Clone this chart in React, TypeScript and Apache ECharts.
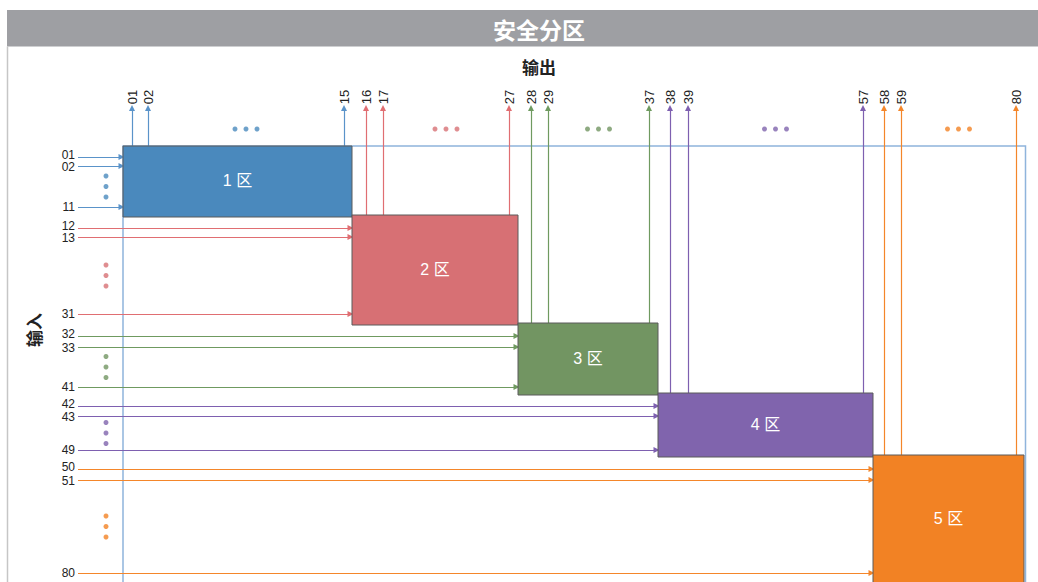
import React, { useEffect, useRef } from "react";
import * as echarts from "echarts";

// ---- diagram content ----
const zoneNames = ["1 区", "2 区", "3 区", "4 区", "5 区"];
const zoneInputs = [
  ["01", "02", "11"],
  ["12", "13", "31"],
  ["32", "33", "41"],
  ["42", "43", "49"],
  ["50", "51", "80"],
];
const zoneOutputs = [
  ["01", "02", "15"],
  ["16", "17", "27"],
  ["28", "29", "37"],
  ["38", "39", "57"],
  ["58", "59", "80"],
];
// zone extents in diagram units
const zoneLeft = [123, 352, 518, 658, 873];
const zoneRight = [352, 518, 658, 873, 1024];
const zoneTop = [146, 215, 323, 393, 455];
const zoneBottom = [215, 323, 393, 455, 582];
// input rows (y) and output columns (x) for the listed ports
const inputRows = [
  [157, 166, 207],
  [228, 237, 314],
  [336, 347, 387],
  [406, 416, 450],
  [469, 480, 573],
];
const outputCols = [
  [132, 148, 344],
  [366, 383, 509],
  [531, 548, 649],
  [670, 688, 863],
  [884, 901, 1016],
];

const boxColors = ["#4a89bd", "#d77074", "#729562", "#8064ad", "#f28224"];
const lineColors = ["#5a93c9", "#e06e72", "#6f9a60", "#7e60b0", "#f4862a"];

const W = 1038;
const H = 582;
const INPUT_START_X = 78;
const INPUT_DOT_X = 106;
const OUTPUT_END_Y = 108;
const OUTPUT_LABEL_Y = 97;
const OUTPUT_DOT_Y = 129;
const FRAME = [123, 1025.5, 146, 582];
const PAIR_LABEL_SHIFT = [-2, 1.2, 0];

const NUM_FONT = "'Liberation Sans', Arial, Helvetica, sans-serif";
const CJK_FONT = "'Noto Sans CJK SC', 'Noto Sans', sans-serif";

export default function App() {
  const ref = useRef<HTMLDivElement>(null);

  useEffect(() => {
    document.body.style.margin = "0";
    if (!ref.current) return;
    const chart = echarts.init(ref.current, undefined, { renderer: "svg" });

    const boxData = zoneNames.map((_, i) => [zoneLeft[i], zoneRight[i], zoneTop[i], zoneBottom[i]]);

    const lineData: any[] = [];
    const dotData: any[] = [];
    const textItems: { x: number; y: number; text: string; rot: boolean }[] = [];

    zoneNames.forEach((_, i) => {
      zoneInputs[i].forEach((name, j) => {
        const y = inputRows[i][j];
        lineData.push({
          coords: [[INPUT_START_X, y], [zoneLeft[i] - 1.5, y]],
          lineStyle: { color: lineColors[i] },
        });
        textItems.push({ x: INPUT_START_X - 3, y: y + PAIR_LABEL_SHIFT[j], text: name, rot: false });
      });
      zoneOutputs[i].forEach((name, j) => {
        const x = outputCols[i][j];
        lineData.push({
          coords: [[x, zoneTop[i]], [x, OUTPUT_END_Y]],
          lineStyle: { color: lineColors[i] },
        });
        textItems.push({ x, y: OUTPUT_LABEL_Y, text: name, rot: true });
      });
      const midY = (inputRows[i][1] + inputRows[i][2]) / 2;
      [-10.5, 0, 10.5].forEach((d) =>
        dotData.push({ value: [INPUT_DOT_X, midY + d], itemStyle: { color: boxColors[i] } })
      );
      const midX = (outputCols[i][1] + outputCols[i][2]) / 2;
      [-11, 0, 11].forEach((d) =>
        dotData.push({ value: [midX + d, OUTPUT_DOT_Y], itemStyle: { color: boxColors[i] } })
      );
    });

    const option: any = {
      animation: false,
      backgroundColor: "#ffffff",
      grid: { left: 0, right: 0, top: 0, bottom: 0, containLabel: false },
      xAxis: { type: "value", min: 0, max: W, show: false },
      yAxis: { type: "value", min: 0, max: H, inverse: true, show: false },
      graphic: [
        { type: "rect", shape: { x: 7, y: 10, width: 1200, height: 36.5 }, style: { fill: "#9e9fa3" }, z: 0 },
        { type: "line", shape: { x1: 7.5, y1: 46.5, x2: 7.5, y2: 582 }, style: { stroke: "#c6c6c6", lineWidth: 1.5 }, z: 0 },
        {
          type: "text", x: 539, y: 29, z: 10,
          style: { text: "安全分区", fill: "#ffffff", font: `bold 23px ${CJK_FONT}`, align: "center", verticalAlign: "middle" },
        },
        {
          type: "text", x: 539, y: 66, z: 10,
          style: { text: "输出", fill: "#222222", font: `bold 17px ${CJK_FONT}`, align: "center", verticalAlign: "middle" },
        },
        {
          type: "text", x: 33, y: 330, rotation: Math.PI / 2, z: 10,
          style: { text: "输入", fill: "#222222", font: `bold 17px ${CJK_FONT}`, align: "center", verticalAlign: "middle" },
        },
      ],
      series: [
        {
          type: "custom",
          z: 1,
          data: [FRAME],
          encode: { x: [0, 1], y: [2, 3] },
          renderItem: (params: any, api: any) => {
            const p0 = api.coord([api.value(0), api.value(2)]);
            const p1 = api.coord([api.value(1), api.value(3)]);
            return {
              type: "rect",
              shape: { x: p0[0], y: p0[1], width: p1[0] - p0[0], height: p1[1] - p0[1] + 2 },
              style: { fill: "none", stroke: "#8fb4dc", lineWidth: 1.5 },
            };
          },
        },
        {
          type: "lines",
          coordinateSystem: "cartesian2d",
          z: 2,
          symbol: ["none", "triangle"],
          symbolSize: [0, 6],
          lineStyle: { width: 1.2, opacity: 1 },
          data: lineData,
        },
        {
          type: "custom",
          z: 3,
          data: boxData,
          encode: { x: [0, 1], y: [2, 3] },
          renderItem: (params: any, api: any) => {
            const i = params.dataIndex;
            const p0 = api.coord([api.value(0), api.value(2)]);
            const p1 = api.coord([api.value(1), api.value(3)]);
            return {
              type: "group",
              children: [
                {
                  type: "rect",
                  shape: { x: p0[0], y: p0[1], width: p1[0] - p0[0], height: p1[1] - p0[1] + 2 },
                  style: { fill: boxColors[i], stroke: "#5a5a5a", lineWidth: 1 },
                },
                {
                  type: "text",
                  x: (p0[0] + p1[0]) / 2,
                  y: (p0[1] + p1[1]) / 2,
                  style: {
                    text: zoneNames[i],
                    fill: "#ffffff",
                    font: `16px ${NUM_FONT}, ${CJK_FONT}`,
                    align: "center",
                    verticalAlign: "middle",
                  },
                },
              ],
            };
          },
        },
        {
          type: "scatter",
          z: 4,
          symbol: "circle",
          symbolSize: 5,
          data: dotData,
        },
        {
          type: "custom",
          z: 5,
          data: textItems.map((t) => [t.x, t.y]),
          encode: { x: 0, y: 1 },
          renderItem: (params: any, api: any) => {
            const t = textItems[params.dataIndex];
            const p = api.coord([api.value(0), api.value(1)]);
            return {
              type: "text",
              x: p[0],
              y: p[1],
              rotation: t.rot ? Math.PI / 2 : 0,
              style: {
                text: t.text,
                fill: "#222222",
                fontFamily: NUM_FONT,
                fontSize: t.rot ? 13 : 12,
                lineHeight: 11,
                align: t.rot ? "center" : "right",
                verticalAlign: "middle",
              },
            };
          },
        },
      ],
    };

    chart.setOption(option);
    return () => chart.dispose();
  }, []);

  return <div ref={ref} style={{ width: W, height: H }} />;
}
